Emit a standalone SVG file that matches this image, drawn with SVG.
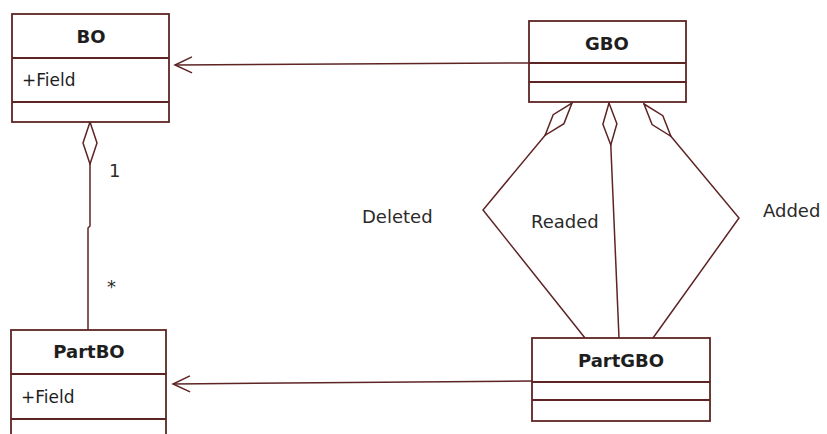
<svg xmlns="http://www.w3.org/2000/svg" width="827" height="434" viewBox="0 0 827 434">
  <style>
    .box { fill: #ffffff; stroke: #5e2424; stroke-width: 1.8; }
    .sep { stroke: #5e2424; stroke-width: 1.8; }
    .title { font-family: "DejaVu Sans", Verdana, sans-serif; font-weight: bold; font-size: 18px; fill: #1e1e1e; text-anchor: middle; }
    .attr { font-family: "DejaVu Sans", Verdana, sans-serif; font-size: 17px; fill: #1e1e1e; }
    .label { font-family: "DejaVu Sans", Verdana, sans-serif; font-size: 18px; fill: #2a2a2a; }
    .conn { fill: none; stroke: #5e2424; stroke-width: 1.5; }
  </style>
  <defs>
    <!-- aggregation diamond, drawn at the start of a path -->
    <marker id="diamond" markerUnits="userSpaceOnUse" markerWidth="44" markerHeight="18" viewBox="-1 -9 44 18" refX="0" refY="0" orient="auto">
      <path d="M0,0 L21,-7 L42,0 L21,7 Z" fill="#ffffff" stroke="#5e2424" stroke-width="1.5"/>
    </marker>
    <!-- open navigability arrow -->
    <marker id="open" markerUnits="userSpaceOnUse" markerWidth="22" markerHeight="22" viewBox="-20 -11 22 22" refX="0" refY="0" orient="auto">
      <path d="M-17,-8 L0,0 L-17,8" fill="none" stroke="#5e2424" stroke-width="1.5"/>
    </marker>
  </defs>

  <rect width="827" height="434" fill="#ffffff"/>

  <g id="connectors">
    <!-- GBO to BO -->
    <path class="conn" d="M529,63 L175,65" marker-end="url(#open)"/>
    <!-- PartGBO to PartBO -->
    <path class="conn" d="M532,381 L173,384" marker-end="url(#open)"/>
    <!-- BO aggregates PartBO -->
    <path class="conn" d="M90,122 L90,226 L88,228 L88,330" marker-start="url(#diamond)"/>
    <!-- GBO aggregates PartGBO: Deleted, Readed, Added -->
    <path class="conn" d="M572,103 L483,210 L585,338" marker-start="url(#diamond)"/>
    <path class="conn" d="M609,103 L619,338" marker-start="url(#diamond)"/>
    <path class="conn" d="M644,104 L739,218 L653,338" marker-start="url(#diamond)"/>
  </g>

  <g id="BO">
    <rect class="box" x="12" y="14" width="157" height="108"/>
    <line class="sep" x1="12" y1="58" x2="169" y2="58"/>
    <line class="sep" x1="12" y1="102" x2="169" y2="102"/>
    <text class="title" x="91" y="43">BO</text>
    <text class="attr" x="22" y="86">+Field</text>
  </g>

  <g id="GBO">
    <rect class="box" x="529" y="21" width="157" height="81"/>
    <line class="sep" x1="529" y1="63" x2="686" y2="63"/>
    <line class="sep" x1="529" y1="82" x2="686" y2="82"/>
    <text class="title" x="607" y="50">GBO</text>
  </g>

  <g id="PartBO">
    <rect class="box" x="11" y="330" width="155" height="112"/>
    <line class="sep" x1="11" y1="374" x2="166" y2="374"/>
    <line class="sep" x1="11" y1="419" x2="166" y2="419"/>
    <text class="title" x="89" y="358">PartBO</text>
    <text class="attr" x="21" y="403">+Field</text>
  </g>

  <g id="PartGBO">
    <rect class="box" x="532" y="338" width="178" height="83"/>
    <line class="sep" x1="532" y1="382" x2="710" y2="382"/>
    <line class="sep" x1="532" y1="400" x2="710" y2="400"/>
    <text class="title" x="621" y="367">PartGBO</text>
  </g>

  <g id="labels">
    <text class="label" x="109" y="177">1</text>
    <text class="label" x="107" y="293">*</text>
    <text class="label" x="362" y="223">Deleted</text>
    <text class="label" x="531" y="228">Readed</text>
    <text class="label" x="763" y="217">Added</text>
  </g>
</svg>
